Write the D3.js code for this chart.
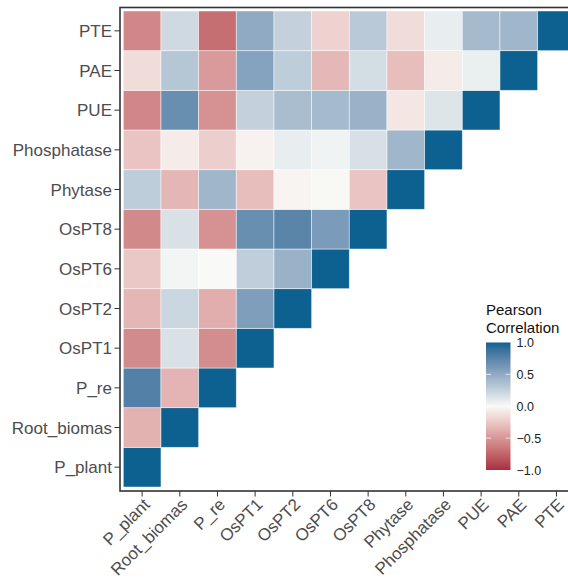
<!DOCTYPE html>
<html>
<meta charset="utf-8">
<head>
    <script src="https://d3js.org/d3.v7.min.js"></script>
</head>
<style>
  body { margin: 0; background: #fff; }
  svg text { font-family: "Liberation Sans", Arial, sans-serif; }
  .axis-label { fill: #4d4d4d; font-size: 17px; }
  .legend-title { fill: #111; font-size: 15px; }
  .legend-label { fill: #222; font-size: 12.5px; }
</style>
<body>
<script>

// variables, bottom to top on y / left to right on x
var vars = ["P_plant", "Root_biomas", "P_re", "OsPT1", "OsPT2", "OsPT6",
            "OsPT8", "Phytase", "Phosphatase", "PUE", "PAE", "PTE"];

// each row: correlations with vars[0..i]
var r_P_plant     = [1];
var r_Root_biomas = [-0.36, 1];
var r_P_re        = [0.78, -0.35, 1];
var r_OsPT1       = [-0.56, 0.15, -0.55, 1];
var r_OsPT2       = [-0.34, 0.22, -0.38, 0.58, 1];
var r_OsPT6       = [-0.25, 0.03, 0.00, 0.27, 0.45, 1];
var r_OsPT8       = [-0.57, 0.15, -0.52, 0.68, 0.75, 0.60, 1];
var r_Phytase     = [0.28, -0.34, 0.42, -0.30, -0.03, -0.01, -0.27, 1];
var r_Phosphatase = [-0.27, -0.07, -0.22, -0.04, 0.08, 0.04, 0.16, 0.42, 1];
var r_PUE         = [-0.58, 0.68, -0.52, 0.25, 0.38, 0.40, 0.45, -0.10, 0.13, 1];
var r_PAE         = [-0.15, 0.32, -0.48, 0.55, 0.28, -0.33, 0.18, -0.30, -0.07, 0.07, 1];
var r_PTE         = [-0.58, 0.20, -0.70, 0.50, 0.25, -0.20, 0.30, -0.15, 0.08, 0.40, 0.42, 1];

var rows = [r_P_plant, r_Root_biomas, r_P_re, r_OsPT1, r_OsPT2, r_OsPT6,
            r_OsPT8, r_Phytase, r_Phosphatase, r_PUE, r_PAE, r_PTE];

var legendTicks = [1.0, 0.5, 0.0, -0.5, -1.0];

var cells = [];
rows.forEach(function(row, i) {
  row.forEach(function(v, j) {
    cells.push({ y: vars[i], x: vars[j], value: v });
  });
});

var width = 568, height = 580;
var panel = { left: 120, right: 578.5, top: 7.5, bottom: 491 };

var svg = d3.select("body").append("svg")
    .attr("width", width)
    .attr("height", height);

var x = d3.scaleBand().domain(vars).range([123.3, 575.3]);
var y = d3.scaleBand().domain(vars).range([487, 11]);

var color = d3.scaleLinear()
    .domain([-1, 0, 1])
    .range(["#a82d42", "#f9faf7", "#0d6190"])
    .interpolate(d3.interpolateLab);

// tiles
svg.append("g").selectAll("rect")
    .data(cells)
    .enter().append("rect")
    .attr("x", function(d) { return x(d.x); })
    .attr("y", function(d) { return y(d.y); })
    .attr("width", x.bandwidth())
    .attr("height", y.bandwidth())
    .attr("fill", function(d) { return color(d.value); })
    .attr("stroke", "#ffffff")
    .attr("stroke-opacity", 0.6)
    .attr("stroke-width", 0.8);

// panel border
svg.append("rect")
    .attr("x", panel.left)
    .attr("y", panel.top)
    .attr("width", panel.right - panel.left)
    .attr("height", panel.bottom - panel.top)
    .attr("fill", "none")
    .attr("stroke", "#333")
    .attr("stroke-width", 1.6);

// y axis
var yAxis = svg.append("g");
yAxis.selectAll("line")
    .data(vars)
    .enter().append("line")
    .attr("x1", panel.left - 5.5)
    .attr("x2", panel.left)
    .attr("y1", function(d) { return y(d) + y.bandwidth() / 2; })
    .attr("y2", function(d) { return y(d) + y.bandwidth() / 2; })
    .attr("stroke", "#333")
    .attr("stroke-width", 1);
yAxis.selectAll("text")
    .data(vars)
    .enter().append("text")
    .attr("class", "axis-label")
    .attr("x", panel.left - 8)
    .attr("y", function(d) { return y(d) + y.bandwidth() / 2; })
    .attr("dy", "0.36em")
    .attr("text-anchor", "end")
    .text(function(d) { return d; });

// x axis
var xAxis = svg.append("g");
xAxis.selectAll("line")
    .data(vars)
    .enter().append("line")
    .attr("x1", function(d) { return x(d) + x.bandwidth() / 2; })
    .attr("x2", function(d) { return x(d) + x.bandwidth() / 2; })
    .attr("y1", panel.bottom)
    .attr("y2", panel.bottom + 5.5)
    .attr("stroke", "#333")
    .attr("stroke-width", 1);
xAxis.selectAll("text")
    .data(vars)
    .enter().append("text")
    .attr("class", "axis-label")
    .attr("transform", function(d) {
      return "translate(" + (x(d) + x.bandwidth() / 2) + "," + (panel.bottom + 6) + ") rotate(-45)";
    })
    .attr("dy", "0.72em")
    .attr("text-anchor", "end")
    .text(function(d) { return d; });

// legend
var leg = { x: 486, y: 342.5, w: 24.5, h: 127.5 };
var grad = svg.append("defs").append("linearGradient")
    .attr("id", "corrgrad")
    .attr("x1", 0).attr("y1", 1).attr("x2", 0).attr("y2", 0);
d3.range(0, 21).forEach(function(i) {
  grad.append("stop")
      .attr("offset", (i / 20 * 100) + "%")
      .attr("stop-color", color(-1 + i * 0.1));
});

svg.append("text")
    .attr("class", "legend-title")
    .attr("x", leg.x)
    .attr("y", 315)
    .text("Pearson");
svg.append("text")
    .attr("class", "legend-title")
    .attr("x", leg.x)
    .attr("y", 332.5)
    .text("Correlation");

svg.append("rect")
    .attr("x", leg.x)
    .attr("y", leg.y)
    .attr("width", leg.w)
    .attr("height", leg.h)
    .attr("fill", "url(#corrgrad)");

var ly = d3.scaleLinear().domain([-1, 1]).range([leg.y + leg.h, leg.y]);

// little white ticks on the bar
var tickG = svg.append("g");
legendTicks.filter(function(d) { return Math.abs(d) < 1; }).forEach(function(d) {
  tickG.append("line")
      .attr("x1", leg.x).attr("x2", leg.x + 5)
      .attr("y1", ly(d)).attr("y2", ly(d))
      .attr("stroke", "#fff").attr("stroke-opacity", 0.7);
  tickG.append("line")
      .attr("x1", leg.x + leg.w - 5).attr("x2", leg.x + leg.w)
      .attr("y1", ly(d)).attr("y2", ly(d))
      .attr("stroke", "#fff").attr("stroke-opacity", 0.7);
});

svg.append("g").selectAll("text")
    .data(legendTicks)
    .enter().append("text")
    .attr("class", "legend-label")
    .attr("x", leg.x + leg.w + 6)
    .attr("y", function(d) { return ly(d); })
    .attr("dy", "0.36em")
    .text(function(d) { return d3.format(".1f")(d).replace("-", "\u2212"); });

</script>
</body>
</html>
